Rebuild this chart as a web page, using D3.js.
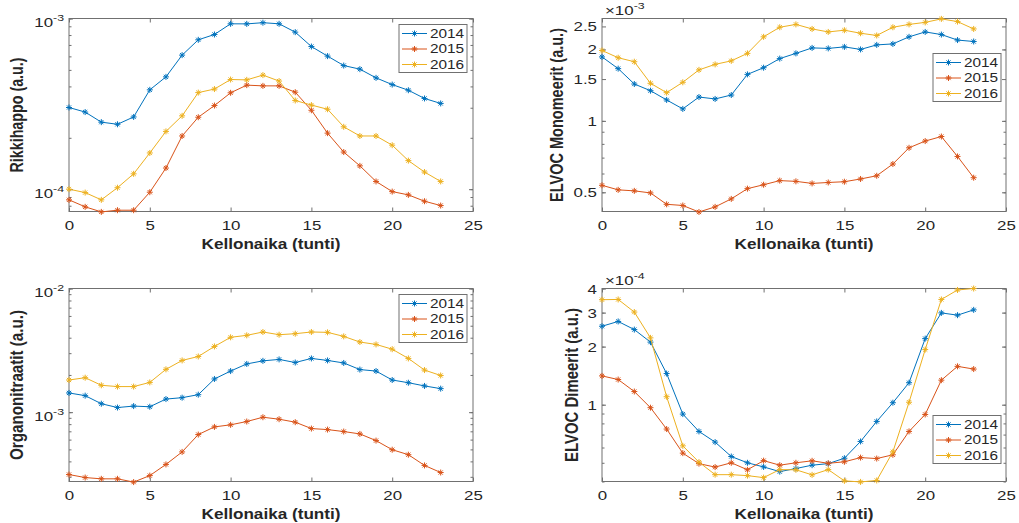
<!DOCTYPE html>
<html>
<head>
<meta charset="utf-8">
<script src="https://cdn.jsdelivr.net/npm/d3@7"></script>
<style>
  body { margin: 0; background: #fff; }
  svg text { font-family: "Liberation Sans", Arial, Helvetica, sans-serif; fill: #262626; }
</style>
</head>
<body>
<div id="chart"></div>
<script>
const hours = [0, 1, 2, 3, 4, 5, 6, 7, 8, 9, 10, 11, 12, 13, 14, 15, 16, 17, 18, 19, 20, 21, 22, 23];
const years = ["2014", "2015", "2016"];
const xTicks = [0, 5, 10, 15, 20, 25];

// Rikkihappo
const rikki2014 = [3.01e-4, 2.83e-4, 2.47e-4, 2.40e-4, 2.65e-4, 3.82e-4, 4.55e-4, 6.10e-4, 7.50e-4, 8.06e-4, 9.31e-4, 9.30e-4,
                   9.45e-4, 9.31e-4, 8.32e-4, 6.85e-4, 6.02e-4, 5.30e-4, 5.05e-4, 4.49e-4, 4.10e-4, 3.80e-4, 3.40e-4, 3.18e-4];
const rikki2015 = [8.66e-5, 7.88e-5, 7.36e-5, 7.53e-5, 7.53e-5, 9.60e-5, 1.33e-4, 2.05e-4, 2.64e-4, 3.09e-4, 3.67e-4, 4.07e-4,
                   4.03e-4, 4.03e-4, 3.70e-4, 2.90e-4, 2.13e-4, 1.65e-4, 1.37e-4, 1.11e-4, 9.68e-5, 9.26e-5, 8.50e-5, 8.02e-5];
const rikki2016 = [1.00e-4, 9.55e-5, 8.66e-5, 1.02e-4, 1.23e-4, 1.63e-4, 2.18e-4, 2.69e-4, 3.68e-4, 3.86e-4, 4.39e-4, 4.37e-4,
                   4.66e-4, 4.30e-4, 3.31e-4, 3.11e-4, 2.94e-4, 2.32e-4, 2.05e-4, 2.05e-4, 1.81e-4, 1.47e-4, 1.26e-4, 1.11e-4];

// ELVOC Monomeerit
const mono2014 = [1.86e-3, 1.66e-3, 1.43e-3, 1.34e-3, 1.225e-3, 1.123e-3, 1.26e-3, 1.237e-3, 1.285e-3, 1.57e-3, 1.675e-3, 1.83e-3,
                  1.925e-3, 2.03e-3, 2.02e-3, 2.05e-3, 2.0e-3, 2.09e-3, 2.11e-3, 2.26e-3, 2.37e-3, 2.31e-3, 2.19e-3, 2.16e-3];
const mono2015 = [0.535e-3, 0.512e-3, 0.507e-3, 0.497e-3, 0.445e-3, 0.44e-3, 0.413e-3, 0.434e-3, 0.469e-3, 0.518e-3, 0.538e-3, 0.56e-3,
                  0.556e-3, 0.545e-3, 0.55e-3, 0.554e-3, 0.569e-3, 0.587e-3, 0.658e-3, 0.77e-3, 0.822e-3, 0.859e-3, 0.708e-3, 0.576e-3];
const mono2016 = [1.98e-3, 1.845e-3, 1.775e-3, 1.44e-3, 1.315e-3, 1.454e-3, 1.64e-3, 1.73e-3, 1.79e-3, 1.925e-3, 2.26e-3, 2.48e-3,
                  2.55e-3, 2.44e-3, 2.37e-3, 2.41e-3, 2.34e-3, 2.29e-3, 2.48e-3, 2.55e-3, 2.60e-3, 2.69e-3, 2.62e-3, 2.44e-3];

// Organonitraatit
const org2014 = [1.43e-3, 1.36e-3, 1.17e-3, 1.09e-3, 1.12e-3, 1.106e-3, 1.276e-3, 1.31e-3, 1.385e-3, 1.855e-3, 2.15e-3, 2.455e-3,
                 2.60e-3, 2.67e-3, 2.52e-3, 2.72e-3, 2.62e-3, 2.50e-3, 2.21e-3, 2.15e-3, 1.82e-3, 1.73e-3, 1.63e-3, 1.55e-3];
const org2015 = [0.313e-3, 0.296e-3, 0.289e-3, 0.289e-3, 0.272e-3, 0.307e-3, 0.378e-3, 0.477e-3, 0.659e-3, 0.76e-3, 0.79e-3, 0.84e-3,
                 0.91e-3, 0.877e-3, 0.83e-3, 0.737e-3, 0.723e-3, 0.697e-3, 0.667e-3, 0.589e-3, 0.497e-3, 0.453e-3, 0.371e-3, 0.325e-3];
const org2016 = [1.82e-3, 1.90e-3, 1.65e-3, 1.61e-3, 1.61e-3, 1.74e-3, 2.22e-3, 2.62e-3, 2.82e-3, 3.40e-3, 4.03e-3, 4.18e-3,
                 4.45e-3, 4.23e-3, 4.31e-3, 4.45e-3, 4.42e-3, 4.10e-3, 3.69e-3, 3.53e-3, 3.23e-3, 2.72e-3, 2.19e-3, 1.98e-3];

// ELVOC Dimeerit
const dim2014 = [2.55e-4, 2.70e-4, 2.45e-4, 2.11e-4, 1.45e-4, 0.894e-4, 0.727e-4, 0.64e-4, 0.539e-4, 0.50e-4, 0.476e-4, 0.45e-4,
                 0.467e-4, 0.486e-4, 0.495e-4, 0.528e-4, 0.645e-4, 0.819e-4, 1.024e-4, 1.30e-4, 2.20e-4, 2.99e-4, 2.91e-4, 3.10e-4];
const dim2015 = [1.41e-4, 1.35e-4, 1.17e-4, 0.965e-4, 0.748e-4, 0.561e-4, 0.495e-4, 0.475e-4, 0.50e-4, 0.46e-4, 0.513e-4, 0.486e-4,
                 0.50e-4, 0.512e-4, 0.497e-4, 0.506e-4, 0.532e-4, 0.526e-4, 0.55e-4, 0.727e-4, 0.89e-4, 1.34e-4, 1.58e-4, 1.53e-4];
const dim2016 = [3.50e-4, 3.51e-4, 3.02e-4, 2.22e-4, 1.10e-4, 0.612e-4, 0.504e-4, 0.434e-4, 0.434e-4, 0.429e-4, 0.419e-4, 0.461e-4,
                 0.46e-4, 0.433e-4, 0.461e-4, 0.403e-4, 0.398e-4, 0.405e-4, 0.57e-4, 1.03e-4, 1.93e-4, 3.51e-4, 3.93e-4, 4.0e-4];

const colors = ["#0072BD", "#D95319", "#EDB120"];
const axisColor = "#707070";
const sx = 1.3; // the figure is stretched sideways

const plotW = 404, plotH = 193;

const panels = [
  { left: 69, top: 18.5, domain: [7.4e-5, 1e-3], major: [1e-4, 1e-3], exp: null,
    label: "Rikkihappo (a.u.)", labelLen: 115, labelX: 18,
    series: [rikki2014, rikki2015, rikki2016], legend: [330, 6] },
  { left: 602, top: 18.5, domain: [4.15e-4, 2.7e-3], major: [0.5e-3, 1e-3, 1.5e-3, 2e-3, 2.5e-3], exp: -3,
    label: "ELVOC Monomeerit (a.u.)", labelLen: 174, labelX: 558,
    series: [mono2014, mono2015, mono2016], legend: [331, 35] },
  { left: 69, top: 288.5, domain: [2.75e-4, 1e-2], major: [1e-3, 1e-2], exp: null,
    label: "Organonitraatit (a.u.)", labelLen: 150, labelX: 18,
    series: [org2014, org2015, org2016], legend: [330, 6] },
  { left: 602, top: 288.5, domain: [4e-5, 4e-4], major: [1e-4, 2e-4, 3e-4, 4e-4], exp: -4,
    label: "ELVOC Dimeerit (a.u.)", labelLen: 154, labelX: 573,
    series: [dim2014, dim2015, dim2016], legend: [331, 127] }
];

const asterisk = "M-3,0H3M0,-3V3M-2.1,-2.1L2.1,2.1M-2.1,2.1L2.1,-2.1";

const svg = d3.select("#chart").append("svg")
  .attr("width", 1019)
  .attr("height", 523);

function minorTicks(domain) {
  var out = [];
  var lo = Math.floor(Math.log10(domain[0])), hi = Math.ceil(Math.log10(domain[1]));
  for (var k = lo; k <= hi; k++) {
    for (var n = 1; n <= 9; n++) {
      var v = n * Math.pow(10, k);
      if (v >= domain[0] * 0.999 && v <= domain[1] * 1.001) out.push(v);
    }
  }
  return out;
}

function styleAxis(g) {
  g.select(".domain").remove();
  g.selectAll("line").attr("stroke", axisColor);
}

panels.forEach(function(p) {
  var x = d3.scaleLinear().domain([0, 25]).range([0, plotW]);
  var y = d3.scaleLog().domain(p.domain).range([plotH, 0]);

  var g = svg.append("g").attr("transform", "translate(" + p.left + "," + p.top + ")");

  // minor ticks left + right
  var minors = minorTicks(p.domain);
  g.append("g").call(d3.axisLeft(y).tickValues(minors).tickSize(-2.5).tickFormat("")).call(styleAxis);
  g.append("g").attr("transform", "translate(" + plotW + ",0)")
    .call(d3.axisRight(y).tickValues(minors).tickSize(-2.5).tickFormat("")).call(styleAxis);

  // major y ticks
  var yAx = g.append("g").call(d3.axisLeft(y).tickValues(p.major).tickSize(-4)).call(styleAxis);
  g.append("g").attr("transform", "translate(" + plotW + ",0)")
    .call(d3.axisRight(y).tickValues(p.major).tickSize(-4).tickFormat("")).call(styleAxis);

  yAx.selectAll("text").each(function(d) {
    var t = d3.select(this).text("")
      .attr("text-anchor", "end")
      .attr("font-size", 13)
      .attr("dy", null)
      .attr("x", -5 / sx)
      .attr("transform", "scale(" + sx + ",1)");
    if (p.exp === null) {
      t.attr("y", 8);
      t.append("tspan").text("10");
      t.append("tspan").attr("dy", -6).attr("font-size", 9.5).text(String(Math.round(Math.log10(d))));
    } else {
      t.attr("y", 4.5).text(String(+(d / Math.pow(10, p.exp)).toFixed(2)));
    }
  });

  // x ticks bottom + top
  var xAx = g.append("g").attr("transform", "translate(0," + plotH + ")")
    .call(d3.axisBottom(x).tickValues(xTicks).tickSize(-4).tickPadding(9)).call(styleAxis);
  xAx.selectAll("text")
    .attr("font-size", 13)
    .attr("transform", "scale(" + sx + ",1)");
  g.append("g").call(d3.axisTop(x).tickValues(xTicks).tickSize(-4).tickFormat("")).call(styleAxis);

  // box
  g.append("rect")
    .attr("width", plotW).attr("height", plotH)
    .attr("fill", "none").attr("stroke", axisColor).attr("stroke-width", 1);

  // exponent label
  if (p.exp !== null) {
    var e = g.append("text")
      .attr("transform", "translate(3,-3.5) scale(" + sx + ",1)")
      .attr("font-size", 13);
    e.append("tspan").text("\u00d710");
    e.append("tspan").attr("dy", -6).attr("font-size", 9.5).text(String(p.exp));
  }

  // series
  var line = d3.line()
    .x(function(d, i) { return x(hours[i]); })
    .y(function(d) { return y(d); });

  p.series.forEach(function(s, si) {
    g.append("path")
      .datum(s)
      .attr("fill", "none")
      .attr("stroke", colors[si])
      .attr("stroke-width", 1)
      .attr("d", line);
    g.selectAll(".m" + si)
      .data(s)
      .enter().append("path")
      .attr("class", "m" + si)
      .attr("d", asterisk)
      .attr("stroke", colors[si])
      .attr("stroke-width", 1)
      .attr("fill", "none")
      .attr("transform", function(d, i) { return "translate(" + x(hours[i]) + "," + y(d) + ")"; });
  });

  // axis labels
  g.append("text")
    .attr("x", plotW / 2)
    .attr("y", plotH + 37)
    .attr("text-anchor", "middle")
    .attr("font-size", 14)
    .attr("font-weight", "bold")
    .attr("textLength", 139)
    .attr("lengthAdjust", "spacingAndGlyphs")
    .text("Kellonaika (tunti)");

  svg.append("text")
    .attr("transform", "translate(" + (p.labelX + 5) + "," + (p.top + plotH / 2) + ") rotate(-90) scale(1,1.3)")
    .attr("text-anchor", "middle")
    .attr("font-size", 14)
    .attr("font-weight", "bold")
    .attr("textLength", p.labelLen)
    .attr("lengthAdjust", "spacingAndGlyphs")
    .text(p.label);

  // legend
  var lg = g.append("g").attr("transform", "translate(" + p.legend[0] + "," + p.legend[1] + ")");
  lg.append("rect")
    .attr("width", 68).attr("height", 48)
    .attr("fill", "#fff").attr("stroke", axisColor).attr("stroke-width", 1);
  years.forEach(function(yr, i) {
    var ly = 9 + i * 15.5;
    lg.append("line")
      .attr("x1", 3).attr("x2", 28).attr("y1", ly).attr("y2", ly)
      .attr("stroke", colors[i]).attr("stroke-width", 1);
    lg.append("path")
      .attr("d", asterisk)
      .attr("transform", "translate(15.5," + ly + ")")
      .attr("stroke", colors[i]).attr("fill", "none");
    lg.append("text")
      .attr("transform", "translate(31," + (ly + 4.3) + ") scale(1.28,1)")
      .attr("font-size", 12)
      .text(yr);
  });
});
</script>
</body>
</html>
